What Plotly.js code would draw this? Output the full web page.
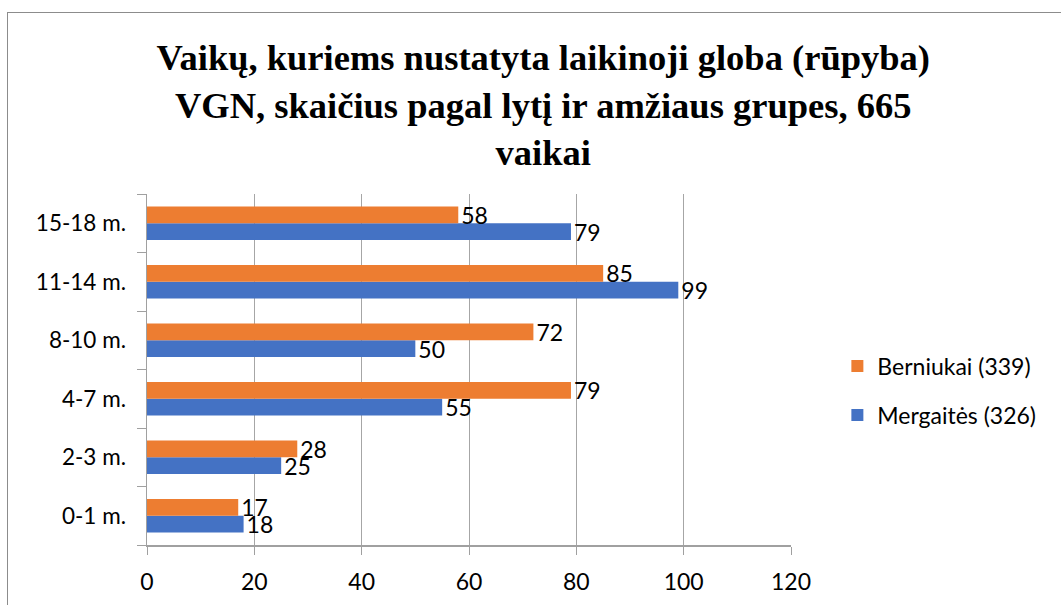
<!DOCTYPE html>
<html>
<head>
<meta charset="utf-8">
<script src="https://cdn.plot.ly/plotly-3.0.1.min.js"></script>
<style>
  body { margin: 0; background: #fff; }
  #wrap { position: relative; width: 1061px; height: 605px; overflow: hidden; }
  #chart { width: 1061px; height: 605px; }
  #frame {
    position: absolute; left: 7px; top: 12px; width: 2000px; height: 2000px;
    border-left: 1.5px solid #8c8c8c; border-top: 1.5px solid #8c8c8c;
    pointer-events: none;
  }
</style>
</head>
<body>
<div id="wrap">
  <div id="chart"></div>
  <div id="frame"></div>
</div>
<script>
// age groups, bottom to top
let ageGroups = ["0-1 m.", "2-3 m.", "4-7 m.", "8-10 m.", "11-14 m.", "15-18 m."]
let girls = [18, 25, 55, 50, 99, 79]
let boys = [17, 28, 79, 72, 85, 58]
let xTicks = [0, 20, 40, 60, 80, 100, 120]
let titleLines = [
    "Vaikų, kuriems nustatyta laikinoji globa (rūpyba)",
    "VGN, skaičius pagal lytį ir amžiaus grupes, 665",
    "vaikai"
]

let sans = "Lato, Open Sans, sans-serif"
let labelFont = { family: sans, size: 23, color: "#000" }

// each title line gets its own span so the serif font sticks on every line
let titleText = titleLines
    .map(l => "<span style=\"font-family:'Liberation Serif',serif;font-weight:bold\">" + l + "</span>")
    .join("<br>")

// blue trace first so it sits below the orange one in each group
let girlsTrace = {
    y: ageGroups,
    x: girls,
    text: girls,
    name: "Mergaitės (326)",
    legendgroup: "girls",
    legendrank: 2,
    type: "bar",
    orientation: "h",
    marker: { color: "#4472C4" },
    textposition: "outside",
    constraintext: "none",
    textfont: labelFont,
    cliponaxis: false
}

let boysTrace = {
    y: ageGroups,
    x: boys,
    text: boys,
    name: "Berniukai (339)",
    legendgroup: "boys",
    legendrank: 1,
    type: "bar",
    orientation: "h",
    marker: { color: "#ED7D31" },
    textposition: "outside",
    constraintext: "none",
    textfont: labelFont,
    cliponaxis: false
}

let layout = {
    title: {
        text: titleText,
        font: { family: "Liberation Serif", size: 36.5, color: "#000", weight: "bold" },
        x: 0.512,
        xanchor: "center",
        y: 0.884,
        yanchor: "top"
    },
    barmode: "group",
    bargap: 0.43,
    bargroupgap: 0,
    width: 1061,
    height: 605,
    margin: { l: 147, r: 270, t: 194, b: 60, pad: 0 },
    paper_bgcolor: "#fff",
    plot_bgcolor: "#fff",
    font: labelFont,
    xaxis: {
        range: [0, 120],
        tickvals: xTicks,
        showgrid: true,
        gridcolor: "#a6a6a6",
        gridwidth: 1,
        zeroline: false,
        showline: true,
        linecolor: "#a0a0a0",
        linewidth: 1.5,
        ticks: "outside",
        ticklen: 8,
        tickcolor: "#a0a0a0",
        ticklabelstandoff: 8,
        tickfont: labelFont
    },
    yaxis: {
        type: "category",
        showgrid: false,
        showline: true,
        linecolor: "#a0a0a0",
        linewidth: 1.5,
        ticks: "outside",
        tickson: "boundaries",
        ticklen: 9,
        tickcolor: "#a0a0a0",
        ticklabelstandoff: 15,
        tickfont: { family: sans, size: 22.5, color: "#000" }
    },
    legend: {
        x: 1.072,
        y: 0.44,
        xanchor: "left",
        yanchor: "middle",
        traceorder: "grouped",
        font: labelFont,
        itemwidth: 30,
        tracegroupgap: 16
    },
    showlegend: true
}

Plotly.newPlot("chart", [girlsTrace, boysTrace], layout, { displayModeBar: false, staticPlot: true })
</script>
</body>
</html>
